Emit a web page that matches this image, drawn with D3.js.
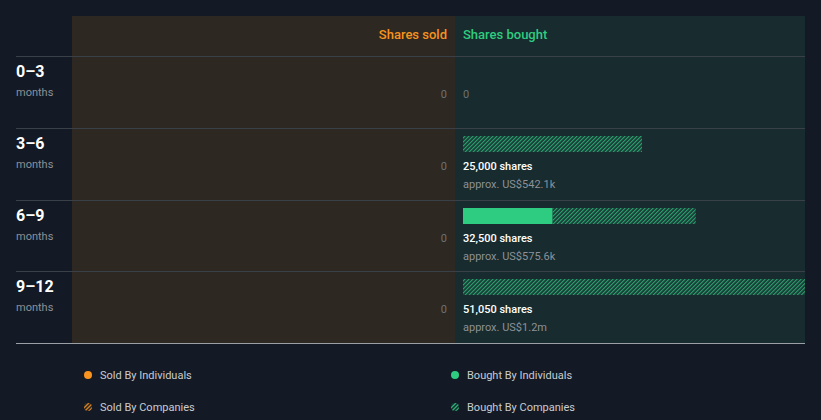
<!DOCTYPE html>
<html><head><meta charset="utf-8">
<script src="https://cdn.jsdelivr.net/npm/d3@7"></script>
<style>body{margin:0;background:#131a26;}svg{display:block;font-family:Roboto,"Noto Sans",sans-serif;}</style>
</head><body><svg id="c" width="821" height="420"></svg>
<script>
const periods = ["0–3","3–6","6–9","9–12"];
const soldIndividuals = [0,0,0,0];
const soldCompanies = [0,0,0,0];
const boughtIndividuals = [0,0,12500,0];
const boughtCompanies = [0,25000,20000,51050];
const boughtTotalLabels = ["0","25,000 shares","32,500 shares","51,050 shares"];
const boughtValueLabels = ["","approx. US$542.1k","approx. US$575.6k","approx. US$1.2m"];
const legendItems = ["Sold By Individuals","Bought By Individuals","Sold By Companies","Bought By Companies"];

(function(){
const svg = d3.select("#c");
const pLeft=72, pMid=455, pRight=805, pTop=16, headerBottom=56, pBottom=343;
const green="#2ecc80", orange="#f7931e";

const defs = svg.append("defs");
function hatch(id,color,w,sw){
  const p=defs.append("pattern").attr("id",id).attr("patternUnits","userSpaceOnUse")
    .attr("width",w).attr("height",w).attr("patternTransform","rotate(45)");
  p.append("rect").attr("width",sw).attr("height",w).attr("fill",color);
}
hatch("hg","#2a9d6c",2.83,1.3);
hatch("ho",orange,2.83,1.3);
hatch("hg2",green,2.83,1.3);
defs.append("clipPath").attr("id","clipB").append("rect")
  .attr("x",pMid).attr("y",-1000).attr("width",pRight-pMid).attr("height",3000);

svg.append("rect").attr("x",pLeft).attr("y",pTop).attr("width",pMid-pLeft).attr("height",pBottom-pTop).attr("fill","#2d2822");
svg.append("rect").attr("x",pMid).attr("y",pTop).attr("width",pRight-pMid).attr("height",pBottom-pTop).attr("fill","#182b2e");

const y = d3.scaleBand().domain(periods).range([headerBottom,pBottom]);
const x = d3.scaleLinear().domain([0,47765]).range([0,342]);
const bx = pMid+8;

svg.append("text").attr("x",pMid-8).attr("y",39).attr("text-anchor","end").attr("fill",orange)
  .attr("font-size",13).attr("font-weight",500).text("Shares sold");
svg.append("text").attr("x",bx).attr("y",39).attr("fill",green)
  .attr("font-size",13).attr("font-weight",500).text("Shares bought");

svg.selectAll("line.row").data(periods).join("line")
  .attr("x1",16).attr("x2",pRight).attr("y1",d=>Math.round(y(d))+0.5).attr("y2",d=>Math.round(y(d))+0.5)
  .attr("stroke","#3a4047").attr("stroke-width",1);
svg.append("line").attr("x1",16).attr("x2",pRight).attr("y1",pBottom+0.5).attr("y2",pBottom+0.5)
  .attr("stroke","#9aa0a6").attr("stroke-width",1);

const g = svg.selectAll("g.r").data(periods).join("g").attr("transform",d=>`translate(0,${Math.round(y(d))})`);
g.append("text").attr("x",16).attr("y",21).attr("fill","#fff").attr("font-size",16).attr("font-weight",700).text(d=>d);
g.append("text").attr("x",16).attr("y",40).attr("fill","#8c9197").attr("font-size",11).text("months");
g.append("text").attr("x",pMid-8).attr("y",42).attr("text-anchor","end").attr("fill","#6d7175").attr("font-size",11)
  .text((d,i)=>soldIndividuals[i]+soldCompanies[i]);

const bars = g.append("g").attr("clip-path","url(#clipB)");
bars.append("rect").attr("x",bx).attr("y",8).attr("height",16)
  .attr("width",(d,i)=>x(boughtIndividuals[i])).attr("fill",green);
bars.append("rect").attr("x",(d,i)=>bx+x(boughtIndividuals[i])).attr("y",8).attr("height",16)
  .attr("width",(d,i)=>x(boughtCompanies[i])).attr("fill","url(#hg)");

const isZero=i=>boughtIndividuals[i]+boughtCompanies[i]===0;
g.append("text").attr("x",bx).attr("y",42)
  .attr("fill",(d,i)=>isZero(i)?"#6d7175":"#fff")
  .attr("font-size",11).attr("font-weight",(d,i)=>isZero(i)?400:500)
  .text((d,i)=>boughtTotalLabels[i]);
g.append("text").attr("x",bx).attr("y",60).attr("fill","#8c9197").attr("font-size",11)
  .text((d,i)=>boughtValueLabels[i]);

const lg = svg.selectAll("g.l").data(legendItems).join("g")
  .attr("transform",(d,i)=>`translate(${i%2===0?88:455},${i<2?375:407})`);
lg.each(function(d,i){
  const s=d3.select(this);
  const col = i%2===0?orange:green;
  s.append("circle").attr("r",4).attr("fill",i<2?col:(i===2?"url(#ho)":"url(#hg2)"));
  s.append("text").attr("x",12).attr("y",4).attr("fill","#c9ccd0").attr("font-size",11).text(d);
});
})();
</script></body></html>
